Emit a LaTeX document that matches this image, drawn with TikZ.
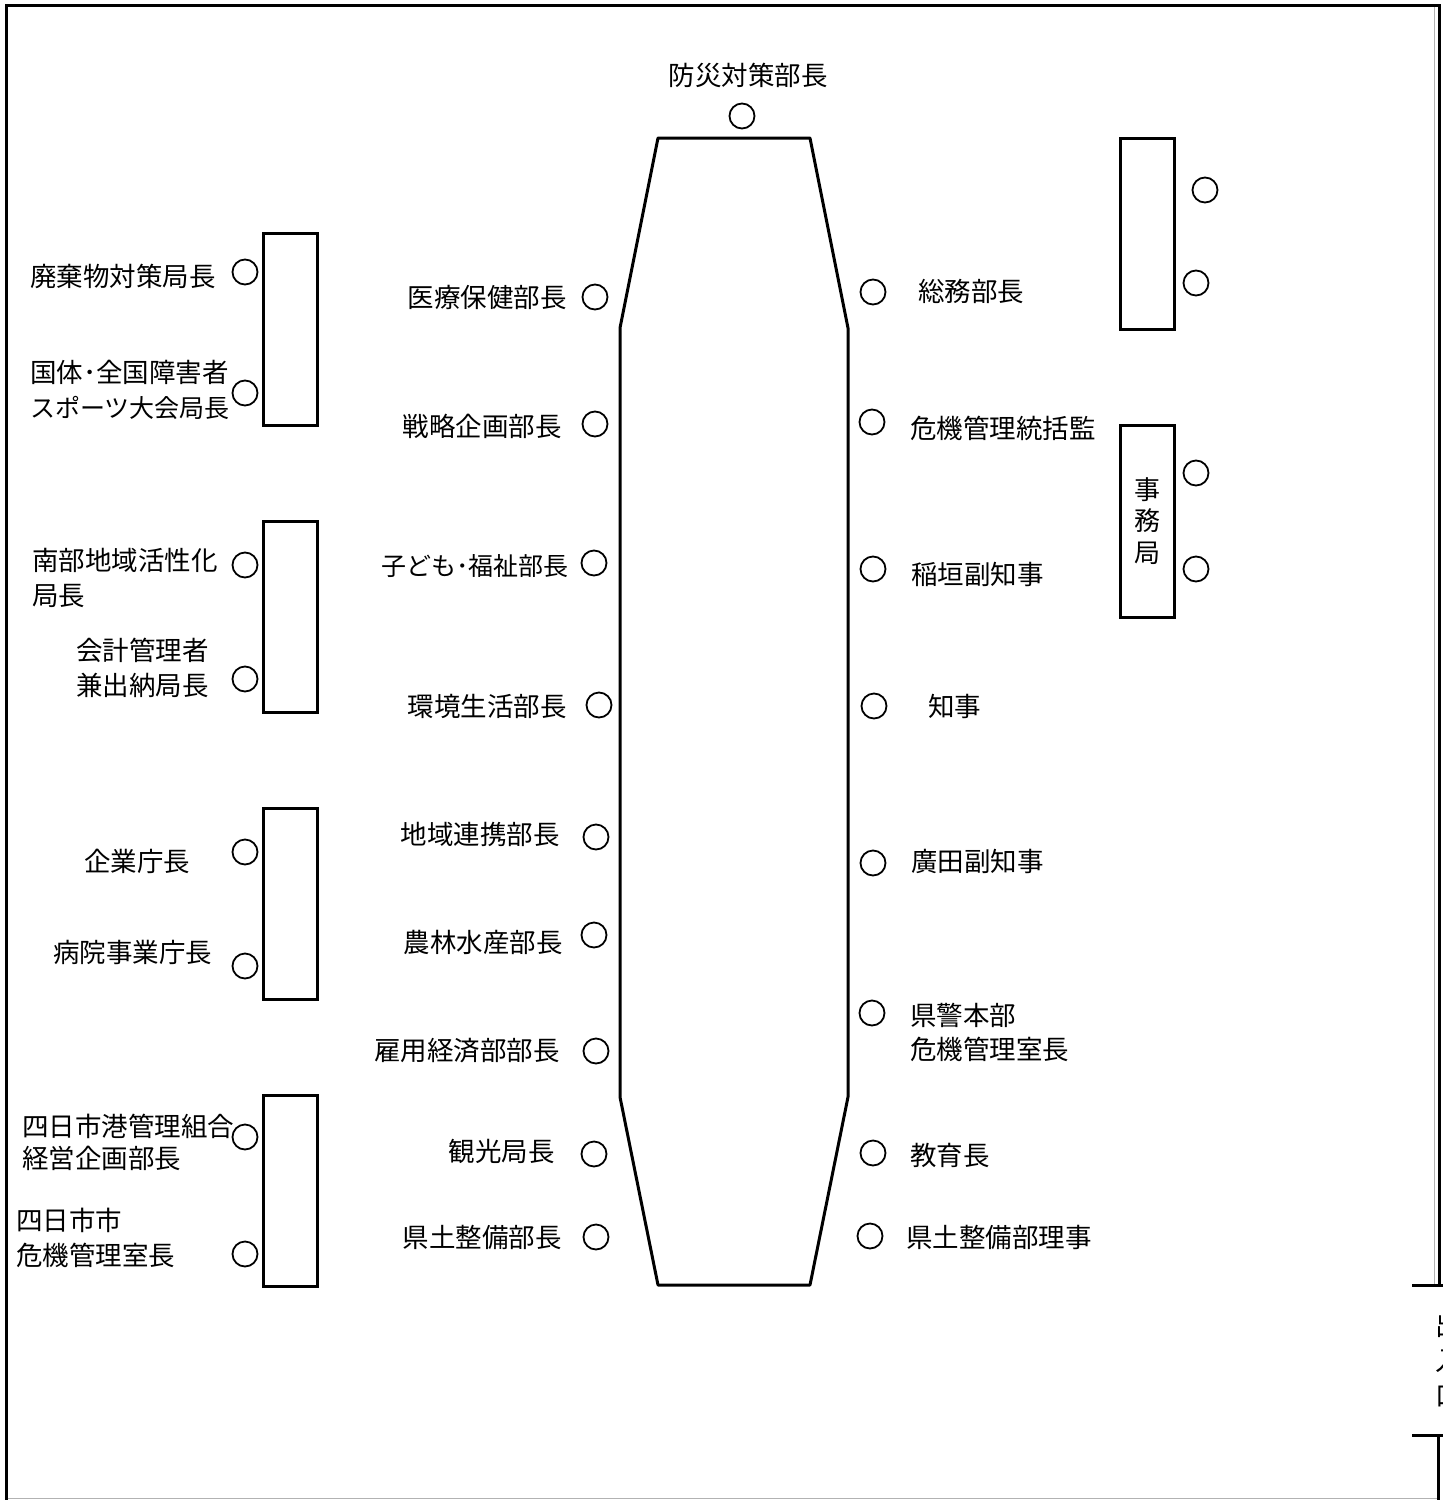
\documentclass[tikz,border=0pt]{standalone}
\usepackage{fontspec}
\setmainfont{Noto Sans CJK JP}
\begin{document}
\begin{tikzpicture}[x=1pt,y=-1pt,
  seat/.style={draw,circle,line width=1.8pt,minimum size=25pt,inner sep=0pt},
  lbl/.style={inner sep=0pt,font=\fontsize{26.5}{35}\selectfont,align=left},
  deskbox/.style={draw,line width=3pt},
  wall/.style={line width=3pt},
  edge/.style={line width=1pt,black!30}]
\useasboundingbox (0,0) rectangle (1443,1500);
% outer frame
\draw[edge] (1434,5) -- (1434,1285);
\draw[edge] (6,1498) -- (1438,1498);
\draw[wall] (6,1500) -- (6,5) -- (1439,5) -- (1439,1285);
\draw[wall] (1412,1285) -- (1443,1285);
\draw[wall] (1412,1435) -- (1443,1435);
\draw[wall] (1438,1435) -- (1438,1500);
\begin{scope}
\clip (1420,1290) rectangle (1443,1430);
\node[lbl,align=center] (door) at (1449,1360) {出\\入\\口};
\end{scope}
% central table
\draw[wall,line join=round] (658,138) -- (810,138) -- (848,328) -- (848,1097) -- (810,1285)
  -- (658,1285) -- (620,1097) -- (620,328) -- cycle;
% left boxes
\draw[deskbox] (263,233) rectangle (317,425);
\draw[deskbox] (263,521) rectangle (317,712);
\draw[deskbox] (263,808) rectangle (317,999);
\draw[deskbox] (263,1095) rectangle (317,1286);
% right boxes
\draw[deskbox] (1120,138) rectangle (1174,329);
\draw[deskbox] (1120,425) rectangle (1174,617);
\node[lbl,align=center,font=\fontsize{26}{31.5}\selectfont] (jimu) at (1147,521) {事\\務\\局};
% top
\node[lbl] (t0) at (748,75) {防災対策部長};
\node[seat] (c0) at (742,116) {};
% left column
\node[seat] (l1) at (245,272) {};
\node[seat] (l2) at (245,393) {};
\node[seat] (l3) at (245,565) {};
\node[seat] (l4) at (245,679) {};
\node[seat] (l5) at (245,852) {};
\node[seat] (l6) at (245,966) {};
\node[seat] (l7) at (245,1137) {};
\node[seat] (l8) at (245,1254) {};
\node[lbl,anchor=west] (tl1) at (30,276) {廃棄物対策局長};
\node[lbl,anchor=west] (tl2) at (30,390) {国体･全国障害者\\{\fontsize{25}{35}\selectfont スポーツ大会局長}};
\node[lbl,anchor=west] (tl3) at (32,578) {南部地域活性化\\局長};
\node[lbl,anchor=west] (tl4) at (76,668) {会計管理者\\兼出納局長};
\node[lbl] (tl5) at (137,861) {企業庁長};
\node[lbl,anchor=west] (tl6) at (53,952) {病院事業庁長};
\node[lbl,anchor=west,font=\fontsize{26.5}{32}\selectfont] (tl7) at (22,1142) {四日市港管理組合\\経営企画部長};
\node[lbl,anchor=west] (tl8) at (16,1238) {四日市市\\危機管理室長};
% middle left
\node[seat] (m1) at (595,297) {};
\node[seat] (m2) at (595,424) {};
\node[seat] (m3) at (594,563) {};
\node[seat] (m4) at (599,705) {};
\node[seat] (m5) at (596,837) {};
\node[seat] (m6) at (594,935) {};
\node[seat] (m7) at (596,1051) {};
\node[seat] (m8) at (594,1154) {};
\node[seat] (m9) at (596,1237) {};
\node[lbl,anchor=east] (tm1) at (567,297) {医療保健部長};
\node[lbl,anchor=east] (tm2) at (562,426) {戦略企画部長};
\node[lbl,anchor=east,font=\fontsize{25}{35}\selectfont] (tm3) at (569,566) {子ども･福祉部長};
\node[lbl,anchor=east] (tm4) at (567,706) {環境生活部長};
\node[lbl,anchor=east] (tm5) at (560,834) {地域連携部長};
\node[lbl,anchor=east] (tm6) at (563,942) {農林水産部長};
\node[lbl,anchor=east] (tm7) at (560,1051) {雇用経済部部長};
\node[lbl,anchor=east] (tm8) at (555,1151) {観光局長};
\node[lbl,anchor=east] (tm9) at (562,1237) {県土整備部長};
% middle right
\node[seat] (r1) at (873,292) {};
\node[seat] (r2) at (872,422) {};
\node[seat] (r3) at (873,569) {};
\node[seat] (r4) at (874,706) {};
\node[seat] (r5) at (873,863) {};
\node[seat] (r6) at (872,1013) {};
\node[seat] (r7) at (873,1153) {};
\node[seat] (r8) at (870,1236) {};
\node[lbl,anchor=west] (tr1) at (918,291) {総務部長};
\node[lbl,anchor=west] (tr2) at (910,428) {危機管理統括監};
\node[lbl,anchor=west] (tr3) at (911,574) {稲垣副知事};
\node[lbl,anchor=west] (tr4) at (928,706) {知事};
\node[lbl,anchor=west] (tr5) at (911,861) {廣田副知事};
\node[lbl,anchor=west,font=\fontsize{26.5}{34}\selectfont] (tr6) at (910,1032) {県警本部\\危機管理室長};
\node[lbl,anchor=west] (tr7) at (910,1155) {教育長};
\node[lbl,anchor=west] (tr8) at (906,1237) {県土整備部理事};
% far right
\node[seat] (f1) at (1205,190) {};
\node[seat] (f2) at (1196,283) {};
\node[seat] (f3) at (1196,473) {};
\node[seat] (f4) at (1196,569) {};
\end{tikzpicture}
\end{document}
